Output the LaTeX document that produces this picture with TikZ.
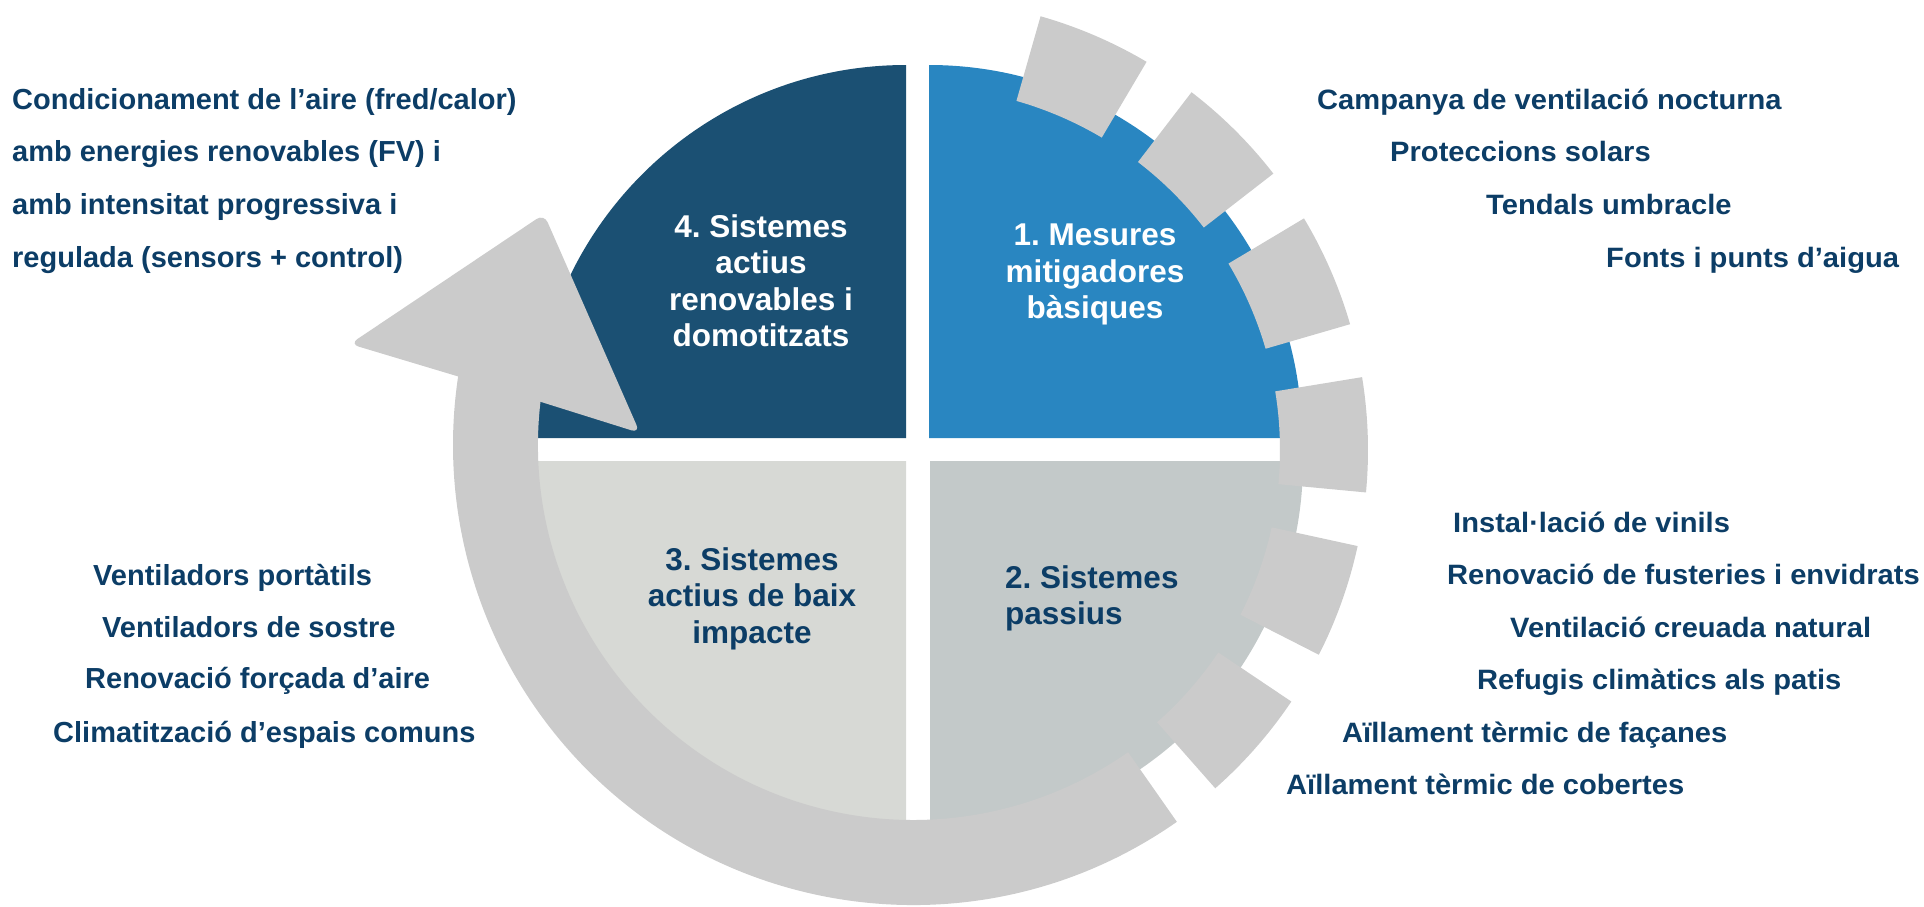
\documentclass[tikz,border=0pt]{standalone}
\usepackage{fontspec}
\setmainfont{Liberation Sans}
\newfontfamily\wideR[FakeStretch=1.04]{Liberation Sans}
\frenchspacing
\definecolor{qone}{HTML}{2986C1}
\definecolor{qtwo}{HTML}{C3C9C9}
\definecolor{qthree}{HTML}{D7D9D5}
\definecolor{qfour}{HTML}{1B5073}
\definecolor{arrowgray}{HTML}{CBCBCB}
\definecolor{txtblue}{HTML}{0C3D66}
\tikzset{
  centrelbl/.style={font=\fontsize{31.5}{36.5}\selectfont\bfseries, align=center, inner sep=0pt, anchor=north},
  listTL/.style={text=txtblue, font=\fontsize{29}{30}\selectfont\bfseries, anchor=base west, inner sep=0pt},
  listBL/.style={text=txtblue, font=\fontsize{29}{30}\selectfont\bfseries, anchor=base west, inner sep=0pt},
  listR/.style={text=txtblue, font=\fontsize{28}{30}\selectfont\wideR\bfseries, anchor=base west, inner sep=0pt},
  tooth/.style={fill=arrowgray},
}
\begin{document}
\begin{tikzpicture}[x=1pt,y=1pt]
\useasboundingbox (0,0) rectangle (1924,-906);
% quadrants
\fill[qfour] (906,-438) -- (533,-438) arc[start angle=180,end angle=90,radius=373pt] -- cycle;
\fill[qone] (929,-438) -- (929,-65) arc[start angle=90,end angle=0,radius=373pt] -- cycle;
\fill[qtwo] (930,-461) -- (1303,-461) arc[start angle=0,end angle=-90,radius=373pt] -- cycle;
\fill[qthree] (906,-461) -- (906,-834) arc[start angle=-90,end angle=-180,radius=373pt] -- cycle;
% teeth
\begin{scope}[shift={(917,-450)}]
\foreach \k in {0,...,5}{
  \pgfmathsetmacro\angA{59.4-21.6*\k}
  \pgfmathsetmacro\angB{74.1-21.6*\k}
  \fill[tooth] (\angA:363pt) arc[start angle=\angA,end angle=\angB,radius=363pt]
     -- (\angB:451pt) arc[start angle=\angB,end angle=\angA,radius=451pt] -- cycle;
}
\end{scope}
% circular arrow
\begin{scope}[shift={(913,-445)}]
\fill[arrowgray] (-55:460pt) arc[start angle=-55,end angle=-190,radius=460pt]
   -- (-190:375pt) arc[start angle=-190,end angle=-55,radius=375pt] -- cycle;
\end{scope}
\fill[arrowgray, rounded corners=9pt] (495,-387.5) -- (350,-344) -- (544,-214) -- (640,-433) -- cycle;
% centre labels
\node[centrelbl, text=white] (l1) at (1095,-224) {1. Mesures\\mitigadores\\bàsiques};
\node[centrelbl, text=txtblue, align=left, anchor=north west] (l2) at (1005,-565) {2. Sistemes\\passius};
\node[centrelbl, text=txtblue] (l3) at (752,-547) {3. Sistemes\\actius de baix\\impacte};
\node[centrelbl, text=white] (l4) at (761,-214) {4. Sistemes\\actius\\renovables i\\domotitzats};
% top-left list
\node[listTL] (tl1) at (12,-109) {Condicionament de l’aire (fred/calor)};
\node[listTL] (tl2) at (12,-161) {amb energies renovables (FV) i};
\node[listTL] (tl3) at (12,-214) {amb intensitat progressiva i};
\node[listTL] (tl4) at (12,-267) {regulada (sensors + control)};
% bottom-left list
\node[listBL] (bl1) at (93,-585) {Ventiladors portàtils};
\node[listBL] (bl2) at (102,-637) {Ventiladors de sostre};
\node[listBL] (bl3) at (85,-688) {Renovació forçada d’aire};
\node[listBL] (bl4) at (53,-742) {Climatització d’espais comuns};
% top-right list
\node[listR] (tr1) at (1317,-109) {Campanya de ventilació nocturna};
\node[listR] (tr2) at (1390,-161) {Proteccions solars};
\node[listR] (tr3) at (1486,-214) {Tendals umbracle};
\node[listR] (tr4) at (1606,-267) {Fonts i punts d’aigua};
% bottom-right list
\node[listR] (br1) at (1453,-532) {Instal·lació de vinils};
\node[listR] (br2) at (1447,-584) {Renovació de fusteries i envidrats};
\node[listR] (br3) at (1510,-637) {Ventilació creuada natural};
\node[listR] (br4) at (1477,-689) {Refugis climàtics als patis};
\node[listR] (br5) at (1342,-742) {Aïllament tèrmic de façanes};
\node[listR] (br6) at (1286,-794) {Aïllament tèrmic de cobertes};
\end{tikzpicture}
\end{document}
